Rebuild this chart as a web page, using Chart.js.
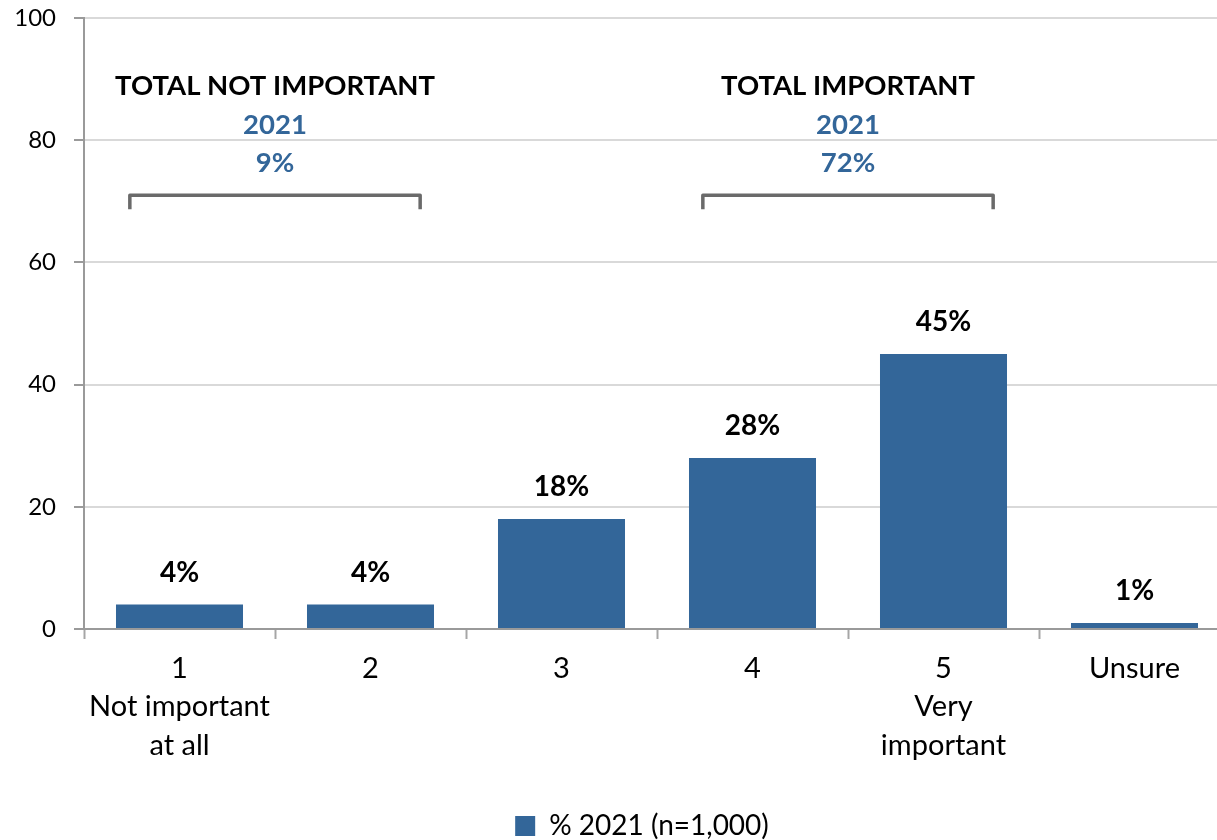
<!DOCTYPE html>
<html lang="en">
<head>
    <meta charset="UTF-8">
    <title>Importance 2021</title>
    <script src="https://cdn.jsdelivr.net/npm/chart.js"></script>
    <style>
        html, body {
            margin: 0;
            padding: 0;
            background: #fff;
            overflow: hidden;
        }
        .wrap {
            width: 1230px;
            height: 840px;
        }
    </style>
</head>
<body>
    <div class="wrap">
        <canvas id="chart" width="1230" height="840"></canvas>
    </div>

    <script>
        // data
        const categories = [['1', 'Not important', 'at all'], '2', '3', '4', ['5', 'Very', 'important'], 'Unsure'];
        const values2021 = [4, 4, 18, 28, 45, 1];
        const seriesName = '% 2021 (n=1,000)';
        const yTicks = [0, 20, 40, 60, 80, 100];

        // summary groups above the bars
        const groupTitles = ['TOTAL NOT IMPORTANT', 'TOTAL IMPORTANT'];
        const groupYears = ['2021', '2021'];
        const groupTotals = ['9%', '72%'];
        const groupFrom = [0, 3];
        const groupTo = [1, 4];

        const blue = '#336699';
        const font = 'Lato, "Open Sans", sans-serif';

        // value labels on top of bars
        const barLabels = {
            id: 'barLabels',
            afterDatasetsDraw(chart) {
                const ctx = chart.ctx;
                const meta = chart.getDatasetMeta(0);
                ctx.save();
                ctx.font = 'bold 28px ' + font;
                ctx.fillStyle = '#000';
                ctx.textAlign = 'center';
                ctx.textBaseline = 'bottom';
                meta.data.forEach((bar, i) => {
                    ctx.fillText(values2021[i] + '%', bar.x, bar.y - 18);
                });
                ctx.restore();
            }
        };

        // brackets + totals
        const brackets = {
            id: 'brackets',
            afterDraw(chart) {
                const ctx = chart.ctx;
                const x = chart.scales.x;
                const y = chart.scales.y;
                const top = y.getPixelForValue(71);
                ctx.save();
                groupTitles.forEach((title, i) => {
                    const x0 = x.getPixelForValue(groupFrom[i] - 0.26);
                    const x1 = x.getPixelForValue(groupTo[i] + 0.26);
                    const cx = (x0 + x1) / 2;

                    ctx.strokeStyle = '#6a6a6a';
                    ctx.lineWidth = 3.5;
                    ctx.lineJoin = 'round';
                    ctx.beginPath();
                    ctx.moveTo(x0, top + 14);
                    ctx.lineTo(x0, top);
                    ctx.lineTo(x1, top);
                    ctx.lineTo(x1, top + 14);
                    ctx.stroke();

                    ctx.textAlign = 'center';
                    ctx.textBaseline = 'middle';
                    ctx.font = 'bold 27.5px ' + font;
                    ctx.fillStyle = '#000';
                    ctx.fillText(title, cx, top - 109);
                    ctx.fillStyle = blue;
                    ctx.fillText(groupYears[i], cx, top - 70);
                    ctx.fillText(groupTotals[i], cx, top - 32);
                });
                ctx.restore();
            }
        };

        // nudge the legend a bit right and down, like the original
        const legendNudge = {
            id: 'legendNudge',
            afterLayout(chart) {
                const lg = chart.legend;
                lg.left += 27; lg.right += 27;
                lg.top += 10; lg.bottom += 10;
            }
        };

        new Chart(document.getElementById('chart'), {
            type: 'bar',
            data: {
                labels: categories,
                datasets: [{
                    label: seriesName,
                    data: values2021,
                    backgroundColor: blue,
                    categoryPercentage: 1,
                    barPercentage: 0.665
                }]
            },
            options: {
                responsive: false,
                animation: false,
                layout: { padding: { top: 18, left: 0, right: 0, bottom: 0 } },
                plugins: {
                    tooltip: { enabled: false },
                    legend: {
                        position: 'bottom',
                        labels: {
                            color: '#000',
                            font: { family: font, size: 28 },
                            boxWidth: 20,
                            boxHeight: 20,
                            padding: 4
                        }
                    }
                },
                scales: {
                    x: {
                        grid: {
                            offset: true,
                            drawOnChartArea: false,
                            drawTicks: true,
                            tickLength: 10,
                            tickColor: '#a6a6a6',
                            tickWidth: 2
                        },
                        border: { color: '#9a9a9a', width: 2 },
                        ticks: {
                            color: '#000',
                            font: { family: font, size: 29, lineHeight: 1.33 },
                            padding: 10,
                            maxRotation: 0
                        },
                        afterFit(s) { s.height = 169; }
                    },
                    y: {
                        min: 0,
                        max: 100,
                        afterBuildTicks(s) { s.ticks = yTicks.map(v => ({ value: v })); },
                        grid: {
                            color: '#d9d9d9',
                            lineWidth: 2,
                            tickLength: 10,
                            tickColor: '#9a9a9a',
                            tickWidth: 2
                        },
                        border: { color: '#9a9a9a', width: 2 },
                        ticks: {
                            color: '#000',
                            font: { family: font, size: 24 },
                            padding: 18
                        },
                        afterFit(s) {
                            s.width = 84;
                            s.paddingTop = 0;
                            s.paddingBottom = 0;
                        }
                    }
                }
            },
            plugins: [barLabels, brackets, legendNudge]
        });
    </script>
</body>
</html>
